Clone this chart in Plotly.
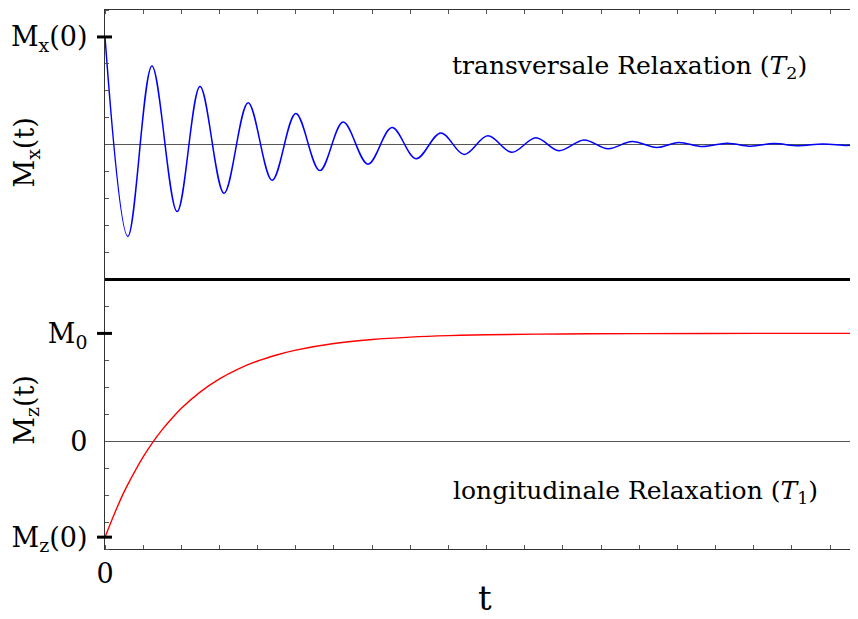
import plotly.graph_objects as go
from plotly.subplots import make_subplots

# transversal magnetisation: turning points of the damped oscillation
t_mx = [0, 0.60, 1.23, 1.89, 2.49, 3.12, 3.75, 4.38, 5.00, 5.63, 6.24, 6.89, 7.52,
        8.15, 8.80, 9.41, 10.03, 10.66, 11.29, 11.89, 12.55, 13.18, 13.81, 14.46,
        15.03, 15.66, 16.30, 16.92, 17.53, 18.16, 18.81, 19.44, 19.73]
mx = [1.0, -0.85, 0.73, -0.62, 0.54, -0.45, 0.39, -0.33, 0.29, -0.24, 0.21, -0.18, 0.16,
      -0.13, 0.11, -0.09, 0.083, -0.07, 0.065, -0.055, 0.045, -0.037, 0.03, -0.025,
      0.021, -0.017, 0.015, -0.013, 0.011, -0.009, 0.008, -0.006, 0.0]

# longitudinal magnetisation
t_mz = [0, 0.25, 0.5, 0.75, 1.0, 1.25, 1.5, 1.75, 2.0, 2.5, 3.0, 3.5, 4.0, 4.5, 5.0,
        6.0, 7.0, 8.0, 9.0, 10.0, 12.0, 14.0, 17.0, 19.73]
mz = [-0.89, -0.67, -0.47, -0.30, -0.146, -0.01, 0.107, 0.21, 0.305, 0.458, 0.578,
      0.671, 0.744, 0.80, 0.845, 0.906, 0.943, 0.965, 0.979, 0.987, 0.995, 0.998,
      1.0, 1.0]

mx0 = 1.0
m0 = 1.0
mz0 = -0.89

x_range = [0, 19.73]
y1_range = [-1.25, 1.25]
y2_range = [-1.0, 1.5]

FONT = "DejaVu Serif, Liberation Serif, serif"
AXIS = "#333333"

fig = make_subplots(rows=2, cols=1, shared_xaxes=True, vertical_spacing=0)

fig.add_trace(go.Scatter(x=t_mx, y=mx, mode="lines", line=dict(color="#0000ff", width=1.5,
                                                                 shape="spline", smoothing=1.0)),
              row=1, col=1)
fig.add_hline(y=m0, row=2, col=1, line=dict(color="#777777", width=1, dash="dot"), layer="below")
fig.add_trace(go.Scatter(x=t_mz, y=mz, mode="lines", line=dict(color="#ff0000", width=1.4,
                                                                 shape="spline", smoothing=1.0)),
              row=2, col=1)

yminor = dict(ticks="inside", tickmode="linear", tick0=0, dtick=0.25, ticklen=4,
              tickcolor="#555555", tickwidth=1)
yaxis_common = dict(showline=True, linecolor=AXIS, linewidth=1.3, showgrid=False,
                    zeroline=True, zerolinecolor="#555555", zerolinewidth=1.2,
                    ticks="", ticklabelstandoff=11, minor=yminor, automargin=False,
                    tickfont=dict(family=FONT, size=27, color="black"))

fig.update_yaxes(range=y1_range, tickvals=[mx0], ticktext=["M<sub>x</sub>(0)"],
                 row=1, col=1, **yaxis_common)
fig.update_yaxes(range=y2_range, tickvals=[mz0, 0, m0],
                 ticktext=["M<sub>z</sub>(0)", "0", "M<sub>0</sub>"],
                 row=2, col=1, **yaxis_common)

xminor = dict(ticks="inside", tickmode="linear", tick0=0, dtick=1, ticklen=4,
              tickcolor="#555555", tickwidth=1)
fig.update_xaxes(range=x_range, showgrid=False, zeroline=False, showline=True,
                 linecolor=AXIS, linewidth=1.3, ticks="", tickvals=[0], ticktext=["0"],
                 minor=xminor, automargin=False,
                 tickfont=dict(family=FONT, size=27, color="black"))
fig.update_xaxes(side="top", showticklabels=False, row=1, col=1)


def to_paper(v, rng, dom):
    return dom[0] + (v - rng[0]) / (rng[1] - rng[0]) * (dom[1] - dom[0])


dom1 = fig.layout.yaxis.domain
dom2 = fig.layout.yaxis2.domain
# heavy ticks at the labelled values, crossing the left axis
for v, rng, dom in [(mx0, y1_range, dom1), (m0, y2_range, dom2), (mz0, y2_range, dom2)]:
    yp = to_paper(v, rng, dom)
    fig.add_shape(type="line", xref="paper", yref="paper", x0=-0.0106, x1=0.0093,
                  y0=yp, y1=yp, line=dict(color="black", width=3))

# heavy separator between the panels
fig.add_shape(type="line", xref="paper", yref="paper", x0=0, x1=1, y0=dom1[0], y1=dom1[0],
              line=dict(color="black", width=3))

annotations = [
    dict(text="transversale Relaxation (<i>T</i><sub>2</sub>)", xref="paper", yref="y",
         x=0.697, y=0.72, font=dict(size=25)),
    dict(text="longitudinale Relaxation (<i>T</i><sub>1</sub>)", xref="paper", yref="y2",
         x=0.704, y=-0.47, font=dict(size=25)),
    dict(text="M<sub>x</sub>(t)", xref="paper", yref="paper", x=-0.104, y=0.735,
         textangle=-90, font=dict(size=27)),
    dict(text="M<sub>z</sub>(t)", xref="paper", yref="paper", x=-0.104, y=0.258,
         textangle=-90, font=dict(size=27)),
    dict(text="t", xref="paper", yref="paper", x=0.505, y=-0.09, font=dict(size=34)),
]
for a in annotations:
    a["font"].update(family=FONT, color="black")
    fig.add_annotation(showarrow=False, xanchor="center", yanchor="middle", **a)

# the page puts the figure 8px in from the top-left corner
fig.update_layout(width=850, height=611, showlegend=False,
                  margin=dict(l=97, r=0, t=2, b=70),
                  font=dict(family=FONT, color="black"),
                  plot_bgcolor="white", paper_bgcolor="white")

fig.write_html("out.html")
